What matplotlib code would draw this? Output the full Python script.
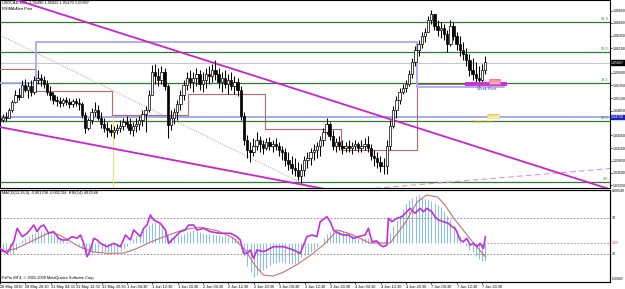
import numpy as np
import matplotlib
matplotlib.use("Agg")
import matplotlib.pyplot as plt
from matplotlib.transforms import blended_transform_factory as btf

plt.rcParams["font.family"] = ["Liberation Sans", "DejaVu Sans"]

# ---------------- data ----------------
# one candle every 2 bars of M30 (bar index = 2*k)
high = [1.0474,1.0478,1.0482,1.0490,1.0506,1.0526,1.0530,1.0546,1.0548,1.0542,
        1.0546,1.0554,1.0566,1.0558,1.0554,1.0546,1.0534,1.0522,1.0514,1.0512,
        1.0510,1.0512,1.0510,1.0508,1.0510,1.0510,1.0502,1.0482,1.0470,1.0490,
        1.0502,1.0496,1.0482,1.0470,1.0462,1.0458,1.0454,1.0458,1.0466,1.0470,
        1.0474,1.0470,1.0462,1.0470,1.0474,1.0486,1.0494,1.0526,1.0576,1.0578,
        1.0570,1.0574,1.0570,1.0538,1.0486,1.0490,1.0506,1.0526,1.0546,1.0562,
        1.0566,1.0562,1.0570,1.0566,1.0562,1.0570,1.0574,1.0578,1.0586,1.0570,
        1.0562,1.0566,1.0558,1.0562,1.0554,1.0550,1.0534,1.0482,1.0436,1.0422,
        1.0430,1.0442,1.0434,1.0426,1.0430,1.0432,1.0426,1.0430,1.0422,1.0414,
        1.0410,1.0402,1.0394,1.0390,1.0382,1.0378,1.0394,1.0402,1.0410,1.0418,
        1.0422,1.0434,1.0450,1.0470,1.0462,1.0446,1.0430,1.0434,1.0426,1.0422,
        1.0426,1.0422,1.0426,1.0422,1.0426,1.0430,1.0434,1.0418,1.0406,1.0402,
        1.0394,1.0390,1.0426,1.0466,1.0494,1.0514,1.0530,1.0538,1.0546,1.0566,
        1.0590,1.0614,1.0626,1.0642,1.0650,1.0674,1.0686,1.0678,1.0666,1.0662,
        1.0658,1.0646,1.0666,1.0662,1.0642,1.0634,1.0622,1.0610,1.0598,1.0590,
        1.0582,1.0574,1.0578,1.0594]
low = [1.0458,1.0462,1.0464,1.0470,1.0482,1.0500,1.0506,1.0514,1.0522,1.0510,
       1.0514,1.0518,1.0538,1.0534,1.0530,1.0516,1.0506,1.0498,1.0494,1.0492,
       1.0494,1.0496,1.0490,1.0492,1.0494,1.0486,1.0470,1.0440,1.0446,1.0458,
       1.0474,1.0466,1.0450,1.0442,1.0432,1.0434,1.0430,1.0438,1.0442,1.0446,
       1.0450,1.0438,1.0434,1.0442,1.0446,1.0454,1.0442,1.0482,1.0516,1.0538,
       1.0534,1.0538,1.0526,1.0430,1.0446,1.0458,1.0466,1.0486,1.0506,1.0526,
       1.0530,1.0522,1.0534,1.0526,1.0522,1.0530,1.0538,1.0542,1.0546,1.0530,
       1.0522,1.0530,1.0518,1.0526,1.0518,1.0514,1.0466,1.0416,1.0390,1.0382,
       1.0394,1.0406,1.0402,1.0398,1.0406,1.0406,1.0402,1.0406,1.0394,1.0386,
       1.0374,1.0366,1.0358,1.0354,1.0346,1.0340,1.0354,1.0370,1.0376,1.0386,
       1.0390,1.0394,1.0414,1.0438,1.0426,1.0406,1.0402,1.0406,1.0398,1.0402,
       1.0402,1.0398,1.0406,1.0402,1.0402,1.0406,1.0402,1.0386,1.0374,1.0370,
       1.0362,1.0358,1.0358,1.0406,1.0450,1.0470,1.0498,1.0518,1.0522,1.0534,
       1.0550,1.0574,1.0594,1.0610,1.0622,1.0642,1.0658,1.0646,1.0634,1.0630,
       1.0626,1.0602,1.0614,1.0626,1.0606,1.0594,1.0586,1.0574,1.0554,1.0546,
       1.0538,1.0534,1.0542,1.0558]
close = [1.0466,1.0472,1.0470,1.0486,1.0502,1.0516,1.0512,1.0536,1.0526,1.0534,
         1.0522,1.0546,1.0550,1.0546,1.0538,1.0522,1.0516,1.0506,1.0504,1.0500,
         1.0506,1.0502,1.0498,1.0504,1.0500,1.0498,1.0476,1.0450,1.0466,1.0482,
         1.0486,1.0470,1.0458,1.0450,1.0446,1.0442,1.0446,1.0450,1.0454,1.0462,
         1.0458,1.0446,1.0454,1.0458,1.0466,1.0478,1.0486,1.0516,1.0562,1.0554,
         1.0546,1.0562,1.0534,1.0456,1.0470,1.0482,1.0498,1.0516,1.0536,1.0550,
         1.0542,1.0550,1.0558,1.0538,1.0546,1.0558,1.0554,1.0566,1.0558,1.0542,
         1.0550,1.0538,1.0546,1.0534,1.0542,1.0526,1.0474,1.0426,1.0406,1.0402,
         1.0414,1.0426,1.0418,1.0410,1.0422,1.0414,1.0418,1.0414,1.0406,1.0402,
         1.0386,1.0378,1.0370,1.0366,1.0354,1.0366,1.0386,1.0390,1.0402,1.0406,
         1.0414,1.0426,1.0442,1.0458,1.0434,1.0414,1.0422,1.0414,1.0410,1.0414,
         1.0410,1.0414,1.0418,1.0410,1.0414,1.0418,1.0410,1.0394,1.0390,1.0382,
         1.0374,1.0374,1.0414,1.0454,1.0486,1.0506,1.0522,1.0530,1.0538,1.0558,
         1.0582,1.0606,1.0618,1.0634,1.0642,1.0666,1.0678,1.0654,1.0646,1.0650,
         1.0638,1.0618,1.0654,1.0634,1.0618,1.0606,1.0598,1.0586,1.0566,1.0558,
         1.0550,1.0546,1.0566,1.0581]
first_open = 1.0470

macd_hist = [-0.0008,-0.0009,-0.0010,-0.0011,-0.0012,-0.0007,-0.0001,0.0003,0.0005,0.0007,
             0.0009,0.0011,0.0012,0.0013,0.0012,0.0012,0.0010,0.0008,0.0006,0.0004,
             0.0003,0.0002,0.0001,0.0000,-0.0001,-0.0002,-0.0006,-0.0011,-0.0013,-0.0012,
             -0.0010,-0.0009,-0.0009,-0.0010,-0.0010,-0.0009,-0.0010,-0.0009,-0.0008,-0.0006,
             -0.0003,0.0001,0.0004,0.0007,0.0010,0.0013,0.0016,0.0019,0.0021,0.0022,
             0.0021,0.0019,0.0014,0.0008,0.0006,0.0006,0.0007,0.0008,0.0010,0.0012,
             0.0013,0.0014,0.0013,0.0012,0.0011,0.0010,0.0009,0.0009,0.0008,0.0008,
             0.0007,0.0007,0.0006,0.0006,0.0005,0.0003,-0.0004,-0.0014,-0.0024,-0.0031,
             -0.0036,-0.0034,-0.0030,-0.0028,-0.0026,-0.0023,-0.0021,-0.0021,-0.0020,-0.0020,
             -0.0021,-0.0021,-0.0022,-0.0022,-0.0020,-0.0015,-0.0013,-0.0012,-0.0010,-0.0007,
             -0.0004,0.0000,0.0005,0.0009,0.0012,0.0014,0.0015,0.0014,0.0013,0.0012,
             0.0010,0.0008,0.0006,0.0005,0.0005,0.0005,0.0005,0.0004,0.0003,0.0002,
             0.0001,0.0001,0.0004,0.0011,0.0018,0.0024,0.0030,0.0036,0.0041,0.0045,
             0.0048,0.0050,0.0051,0.0049,0.0047,0.0046,0.0044,0.0042,0.0040,0.0038,
             0.0034,0.0029,0.0024,0.0019,0.0013,0.0007,0.0002,-0.0003,-0.0007,-0.0010,
             -0.0014,-0.0017,-0.0019,-0.0019]

sig_bar = [0, 10, 20, 32, 38, 43, 50, 59, 68, 78, 86, 95, 106, 116, 126, 137, 147, 155, 160,
           166, 172, 179, 188, 196, 204, 213, 222, 233, 246, 255, 263, 269, 276, 281, 286, 296, 306]
sig_val = [-0.00095, -0.0006, 0.0002, 0.00116, 0.0008, 0.00032, -0.0004, -0.00095, -0.0011,
           -0.00106, -0.0006, 0.00011, 0.00084, 0.0014, 0.00169, 0.0013, 0.00053, -0.0008, -0.0022,
           -0.00338, -0.0035, -0.00306, -0.0022, -0.00127, -0.0002, 0.00137, 0.0009, 0.0, 0.0,
           0.002, 0.00433, 0.00507, 0.00486, 0.0039, 0.00264, 0.00053, -0.00148]

rsi_bar = [0, 4.5, 8.7, 10.8, 14, 17.1, 21.3, 23.4, 25.5, 27.6, 30.7, 33.9, 37, 39.2, 42.3, 45.5,
           48.6, 50.7, 52.8, 54.9, 57, 59.1, 61.2, 63.3, 67.5, 71.7, 75.9, 79.1, 82.2, 84.3, 86.4,
           88.5, 90.6, 92.7, 94.8, 96.9, 101.1, 104.3, 106.3, 109.5, 113.7, 116.9, 118.9, 122.1,
           124.2, 128.4, 132.6, 138.9, 145.2, 149.4, 151.5, 153.6, 155.7, 157.8, 159.9, 162, 166.2,
           172.5, 178.8, 185.1, 189.3, 193.5, 196.7, 199.8, 201.9, 206.1, 208.2, 210.3, 213.4,
           216.6, 219.7, 222.9, 226, 230.2, 232.3, 234.5, 237.6, 239.7, 241.8, 243.9, 244.9,
           247.1, 250.2, 253.4, 256.5, 258.6, 261.7, 264.9, 267, 269.1, 272.2, 274.3, 276.4,
           279.6, 282.7, 284.9, 287, 288, 290.1, 292.2, 294.3, 296.4, 298.5, 300.6, 302.7, 304.8, 306]
rsi_val = [36.3, 30.7, 43.7, 58.5, 49.3, 53, 62.2, 54.8, 60.4, 62.2, 53, 54.8, 47.4, 45.6, 45.6, 49.3,
           47.4, 51.1, 41.9, 27, 34.4, 47.4, 45.6, 41.9, 38.1, 41.9, 38.1, 51.1, 45.6, 56.7, 53,
           49.3, 58.5, 62.2, 73.3, 67.8, 64.1, 56.7, 41.9, 47.4, 54.8, 56.7, 62.2, 62.2,
           56.7, 58.5, 54.8, 53, 53, 49.3, 45.6, 30.7, 30.7, 34.4, 25.2, 34.4, 32.6,
           38.1, 38.1, 34.4, 30.7, 49.3, 51.1, 49.3, 65.9, 71.4, 65.9, 56.7, 53,
           51.1, 51.1, 47.4, 49.3, 51.1, 58.5, 43.7, 44.4, 40, 38.1, 40, 69.6,
           65.9, 69.6, 71.4, 77, 80.7, 75.2, 80.7, 77, 80.7, 77, 71.4, 67.8,
           65.9, 64.1, 60.4, 58.5, 54.8, 45.6, 43.7, 47.4, 40, 41.9, 38.1, 41.9, 36.3, 49.05]

# fibonacci retracement
fib_low, fib_high = 1.0342, 1.0860
fib_levels = [0.0, 23.6, 38.2, 50.0, 61.8]

# step lines (day / week levels)
day_bars = [0, 23, 71, 119, 167, 215, 263, 293]
day_vals = [1.0568, 1.0524, 1.0476, 1.0518, 1.0448, 1.0406, 1.0538, 1.0538]
week_bars = [0, 23, 263, 318]
week_vals = [1.0540, 1.0622, 1.0532, 1.0532]

# trend lines (bar, price)
upper_channel = ([0, 385], [1.0717, 1.0327])
lower_channel = ([0, 215], [1.0452, 1.0322])
dotted_trend = ([0, 200], [1.0636, 1.0325])
dashed_trend = ([220, 385], [1.0325, 1.0369])

hline_blue = 1.0472
bid = 1.05807
vline_bar = 71.5

time_labels = ["28 May 2010", "28 May 20:30", "31 May 04:30", "31 May 12:30", "31 May 20:30",
               "1 Jun 04:30", "1 Jun 12:30", "1 Jun 20:30", "2 Jun 04:30", "2 Jun 12:30",
               "2 Jun 20:30", "3 Jun 04:30", "3 Jun 12:30", "3 Jun 20:30", "4 Jun 04:30",
               "4 Jun 12:30", "4 Jun 20:30", "7 Jun 04:30", "7 Jun 12:30", "7 Jun 20:30"]
price_ticks = [1.0685, 1.0660, 1.0635, 1.0610, 1.0560, 1.0535, 1.0510, 1.0485,
               1.0435, 1.0410, 1.0385, 1.0360, 1.0335]

# ---------------- figure ----------------
W, H = 625, 289
fig = plt.figure(figsize=(W / 100, H / 100), dpi=100)
fig.patch.set_facecolor("white")

def frac(x0, y0, x1, y1):
    return [x0 / W, 1 - y1 / H, (x1 - x0) / W, (y1 - y0) / H]

ax = fig.add_axes(frac(0, 0, 610, 188))
ax2 = fig.add_axes(frac(0, 190, 610, 282))
XL = (0.3, 384.6)
FS = 2.8     # small chart texts
FR = 2.5     # right axis labels

# candles
hi = np.array(high); lo = np.array(low); cl = np.array(close)
op = np.concatenate([[first_open], cl[:-1]])
bx = np.arange(len(cl)) * 2
ax.vlines(bx, lo, hi, color="black", lw=0.75, zorder=5)
up = cl >= op
body = np.where(np.abs(cl - op) < 0.00008, 0.00008, cl - op)
ax.bar(bx[up], body[up], bottom=op[up], width=1.5, color="white",
       edgecolor="black", lw=0.5, zorder=6)
ax.bar(bx[~up], body[~up], bottom=op[~up], width=1.5, color="black",
       edgecolor="black", lw=0.5, zorder=6)

# fib lines
for lv in fib_levels:
    y = fib_low + (fib_high - fib_low) * lv / 100
    ax.axhline(y, color="#2e7a2e", lw=0.9, zorder=2)
    ax.text(0.997, y + 0.0002, f"{lv:.1f}", transform=btf(ax.transAxes, ax.transData),
            ha="right", va="bottom", fontsize=FS, color="#3a8a3a")

ax.axhline(bid, color="#c8c8c8", lw=0.8, zorder=1)
ax.axhline(hline_blue, color="#9a9af0", lw=1.2, zorder=2)
ax.step(day_bars, day_vals, where="post", color="#b86a6a", lw=0.8, zorder=3)
ax.step(week_bars, week_vals, where="post", color="#a8a8f4", lw=1.3, zorder=3)
ax.plot(*dotted_trend, color="#c89090", lw=0.7, ls=(0, (1, 1.5)), zorder=2)
ax.plot(*upper_channel, color="#cc22cc", lw=1.3, zorder=4)
ax.plot(*lower_channel, color="#cc22cc", lw=1.3, zorder=4)
ax.plot(*dashed_trend, color="#e090e0", lw=0.8, ls=(0, (5, 3)), zorder=2)
ax.plot([vline_bar, vline_bar], [hline_blue, 1.0320], color="#f0e080", lw=0.8, zorder=2)

# pivot labels
ax.plot([293, 320], [1.0538, 1.0538], color="#cc33cc", lw=2.8, solid_capstyle="butt", zorder=7)
ax.text(306.8, 1.0528, "Week Pivot", fontsize=FS, color="#4040a0", ha="center", va="center", zorder=8)
ax.text(312, 1.0543, "1.05380", fontsize=2.2, color="#ff4040", ha="center", va="center",
        bbox=dict(boxstyle="square,pad=0.1", fc="#ffb0c0", ec="#ff6080", lw=0.4), zorder=8)
ax.text(304, 1.0462, "Month Pivot", fontsize=FS, color="#e0b800", ha="center", va="center", zorder=8)
ax.text(311, 1.0474, "1.04720", fontsize=2.2, color="#d0a000", ha="center", va="center",
        bbox=dict(boxstyle="square,pad=0.1", fc="#fff8c0", ec="#e0c040", lw=0.4), zorder=8)

# header texts
ax.text(0.004, 0.995, "USDCAD,M30  1.05490 1.05822 1.05470 1.05807", transform=ax.transAxes,
        fontsize=FS, va="top", ha="left")
ax.text(0.004, 0.965, "RSIMA Alert Print", transform=ax.transAxes, fontsize=FS, va="top", ha="left")

ax.set_xlim(*XL)
ax.set_ylim(1.0330, 1.0706)
ax.set_xticks([])
ax.yaxis.tick_right()
ax.set_yticks(price_ticks)
ax.set_yticklabels([f"{v:.5f}" for v in price_ticks])
ax.tick_params(axis="y", labelsize=FR, length=1.5, width=0.5, pad=0.5)
bt = btf(ax.transAxes, ax.transData)
ax.text(1.002, bid, f"{bid:.5f}", transform=bt, fontsize=FR, color="white", ha="left", va="center",
        bbox=dict(boxstyle="square,pad=0.12", fc="black", ec="black"), clip_on=False)
ax.text(1.002, hline_blue, f"{hline_blue:.5f}", transform=bt, fontsize=FR, color="white", ha="left",
        va="center", bbox=dict(boxstyle="square,pad=0.12", fc="#2020c0", ec="#2020c0"), clip_on=False)
for s in ax.spines.values():
    s.set_linewidth(0.8)

# ---------------- indicator panel ----------------
hb = np.arange(len(macd_hist)) * 2
ax2.vlines(hb, 0, macd_hist, color="#8cc0de", lw=0.8, zorder=2)
ax2.plot(sig_bar, sig_val, color="#c87070", lw=0.8, zorder=3)
ax2.set_ylim(-0.00412, 0.0056)
ax2.set_xlim(*XL)
axr = ax2.twinx()
axr.set_ylim(-1.1, 101.1)
axr.set_yticks([])
axr.axhline(70, color="#808080", lw=0.6, ls=(0, (2, 2)))
axr.axhline(30, color="#808080", lw=0.6, ls=(0, (2, 2)))
axr.plot(rsi_bar, rsi_val, color="#c030e0", lw=1.2, zorder=4)
ax2.plot([307, 384.6], [0, 0], color="#e07080", lw=0.6, ls=(0, (2, 2)))

ax2.yaxis.tick_right()
ax2.set_yticks([])
bt2 = btf(ax2.transAxes, ax2.transData)
btr = btf(axr.transAxes, axr.transData)
ax2.text(1.003, 0.00549, "0.00549", transform=bt2, fontsize=FR, va="center", ha="left", clip_on=False)
ax2.text(1.003, -0.0038, "-0.00400", transform=bt2, fontsize=2.2, va="center", ha="left", clip_on=False)
ax2.text(1.003, 0.0, "0.00", transform=bt2, fontsize=FR, va="center", ha="left", color="#e05070", clip_on=False)
axr.text(1.003, 70, "70", transform=btr, fontsize=FR, va="center", ha="left", clip_on=False)
axr.text(1.003, 30, "30", transform=btr, fontsize=FR, va="center", ha="left", clip_on=False)

ax2.text(0.004, 0.985, "MACD(12,26,9) -0.001708 -0.001724  RSI(14) 49.0546", transform=ax2.transAxes,
         fontsize=FS, va="top", ha="left")
ax2.text(0.004, 0.02, "FxPro MT4, \u00a9 2001-2009 MetaQuotes Software Corp.", transform=ax2.transAxes,
         fontsize=FS, va="bottom", ha="left")

tick_bars = np.arange(len(time_labels)) * 16
ax2.set_xticks(tick_bars)
ax2.set_xticklabels(time_labels)
ax2.tick_params(axis="x", labelsize=FS, length=1.5, width=0.5, pad=0.5)
for lbl in ax2.get_xticklabels():
    lbl.set_ha("left")
for s in list(ax2.spines.values()) + list(axr.spines.values()):
    s.set_linewidth(0.8)

fig.savefig("out.png", dpi=100, facecolor="white")
